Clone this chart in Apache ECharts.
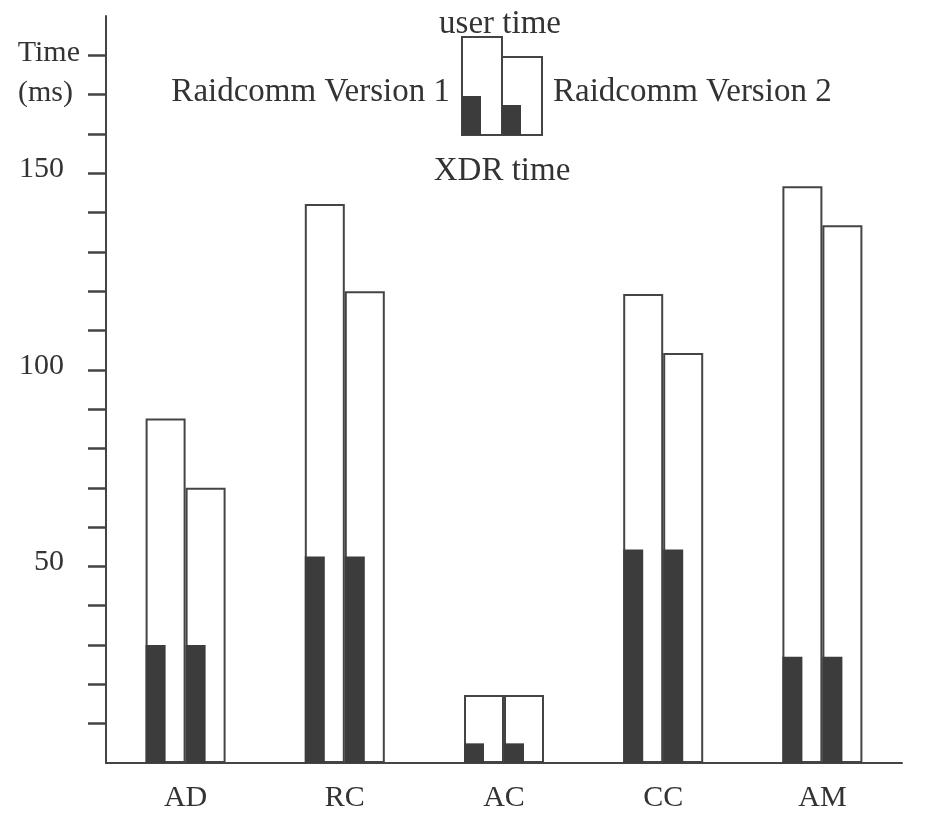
<!DOCTYPE html>
<html>
<head>
<meta charset="utf-8">
<script src="https://cdn.jsdelivr.net/npm/echarts@6/dist/echarts.min.js"></script>
<style>
html,body{margin:0;padding:0;background:#fff;}
#chart{width:931px;height:815px;}
</style>
</head>
<body>
<div id="chart"></div>
<script>
const categories = ['AD', 'RC', 'AC', 'CC', 'AM'];
const userTimeV1 = [87.6, 142.2, 17.3, 119.3, 146.7];
const userTimeV2 = [70, 120, 17.3, 104.3, 136.8];
const xdrTimeV1 = [30, 52.5, 5, 54.3, 27];
const xdrTimeV2 = [30, 52.5, 5, 54.3, 27];
const yTickValues = [10, 20, 30, 40, 50, 60, 70, 80, 90, 100, 110, 120, 130, 140, 150, 160, 170, 180];
const yLabelValues = [50, 100, 150, 170, 180];
const yLabelTexts = {50: '50', 100: '100', 150: '150', 170: '(ms)', 180: 'Time'};

const FONT = 'Liberation Serif';
const INK = '#333';
const LINE = '#444';
const DARK = '#3c3c3c';

const chart = echarts.init(document.getElementById('chart'), null, {renderer: 'canvas'});

const yMax = 190;
const option = {
  backgroundColor: '#fff',
  animation: false,
  grid: [
    {left: 106, right: 29, top: 16, bottom: 52},
    {left: 96, right: 39, top: 16, bottom: 52}
  ],
  xAxis: [
    {
      type: 'category', gridIndex: 0, data: categories,
      axisLine: {lineStyle: {color: LINE, width: 2}},
      axisTick: {show: false},
      axisLabel: {color: INK, fontFamily: FONT, fontSize: 30, margin: 20}
    },
    {
      type: 'category', gridIndex: 1, data: categories, show: false
    }
  ],
  yAxis: [
    {
      type: 'value', gridIndex: 0, min: 0, max: yMax, interval: 10,
      splitLine: {show: false},
      axisLine: {show: true, lineStyle: {color: LINE, width: 2}},
      axisTick: {show: true, length: 18, customValues: yTickValues, lineStyle: {color: LINE, width: 2.5}},
      axisLabel: {
        customValues: yLabelValues,
        margin: 26,
        color: INK, fontFamily: FONT, fontSize: 30,
        formatter: function (v) {
          const t = yLabelTexts[v];
          if (v === 180) return '{t|' + t + '}';
          if (v === 170) return '{m|' + t + '}';
          return '{n|' + t + '}';
        },
        rich: {
          t: {fontFamily: FONT, fontSize: 30, color: INK, padding: [0, 0, 4, 0]},
          m: {fontFamily: FONT, fontSize: 30, color: INK, padding: [0, 7, 4, 0]},
          n: {fontFamily: FONT, fontSize: 30, color: INK, padding: [0, 16, 8, 0]}
        }
      }
    },
    {
      type: 'value', gridIndex: 1, min: 0, max: yMax, show: false, splitLine: {show: false}
    }
  ],
  series: [
    {
      name: 'Raidcomm Version 1 user time', type: 'bar', xAxisIndex: 0, yAxisIndex: 0,
      data: userTimeV1, barWidth: 40, barGap: 0,
      itemStyle: {color: '#fff', borderColor: LINE, borderWidth: 2}
    },
    {
      name: 'Raidcomm Version 2 user time', type: 'bar', xAxisIndex: 0, yAxisIndex: 0,
      data: userTimeV2, barWidth: 40, barGap: 0,
      itemStyle: {color: '#fff', borderColor: LINE, borderWidth: 2}
    },
    {
      name: 'Raidcomm Version 1 XDR time', type: 'bar', xAxisIndex: 1, yAxisIndex: 1,
      data: xdrTimeV1, barWidth: 20, barGap: '100%', z: 3,
      itemStyle: {color: DARK}
    },
    {
      name: 'Raidcomm Version 2 XDR time', type: 'bar', xAxisIndex: 1, yAxisIndex: 1,
      data: xdrTimeV2, barWidth: 20, barGap: '100%', z: 3,
      itemStyle: {color: DARK}
    }
  ],
  graphic: [
    {type: 'rect', shape: {x: 462, y: 37, width: 40, height: 98}, style: {fill: '#fff', stroke: LINE, lineWidth: 2}},
    {type: 'rect', shape: {x: 502, y: 57, width: 40, height: 78}, style: {fill: '#fff', stroke: LINE, lineWidth: 2}},
    {type: 'rect', shape: {x: 462, y: 96, width: 19, height: 39}, style: {fill: DARK}},
    {type: 'rect', shape: {x: 502, y: 105, width: 19, height: 30}, style: {fill: DARK}},
    {type: 'text', x: 500, y: 24, style: {text: 'user time', fill: INK, font: '33px "' + FONT + '"', align: 'center', verticalAlign: 'middle'}},
    {type: 'text', x: 502, y: 171, style: {text: 'XDR time', fill: INK, font: '33px "' + FONT + '"', align: 'center', verticalAlign: 'middle'}},
    {type: 'text', x: 450, y: 92, style: {text: 'Raidcomm Version 1', fill: INK, font: '33px "' + FONT + '"', align: 'right', verticalAlign: 'middle'}},
    {type: 'text', x: 553, y: 92, style: {text: 'Raidcomm Version 2', fill: INK, font: '33px "' + FONT + '"', align: 'left', verticalAlign: 'middle'}}
  ]
};
chart.setOption(option);
</script>
</body>
</html>
